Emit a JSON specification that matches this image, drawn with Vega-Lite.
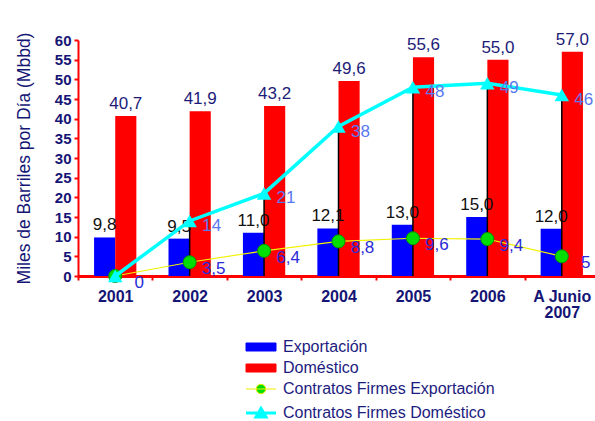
{
  "$schema": "https://vega.github.io/schema/vega-lite/v6.json",
  "width": 521,
  "height": 236,
  "autosize": {"type": "none"},
  "padding": {"left": 78, "top": 40, "right": 0, "bottom": 145},
  "background": "white",
  "config": {
    "locale": {"number": {"decimal": ",", "thousands": ".", "grouping": [3], "currency": ["", " €"]}},
    "font": "Liberation Sans",
    "view": {"stroke": null}
  },
  "data": {"values": [
    {"anio": "2001", "serie": "Exportación", "valor": 9.8},
    {"anio": "2002", "serie": "Exportación", "valor": 9.5},
    {"anio": "2003", "serie": "Exportación", "valor": 11.0},
    {"anio": "2004", "serie": "Exportación", "valor": 12.1},
    {"anio": "2005", "serie": "Exportación", "valor": 13.0},
    {"anio": "2006", "serie": "Exportación", "valor": 15.0},
    {"anio": "A Junio 2007", "serie": "Exportación", "valor": 12.0},
    {"anio": "2001", "serie": "Doméstico", "valor": 40.7},
    {"anio": "2002", "serie": "Doméstico", "valor": 41.9},
    {"anio": "2003", "serie": "Doméstico", "valor": 43.2},
    {"anio": "2004", "serie": "Doméstico", "valor": 49.6},
    {"anio": "2005", "serie": "Doméstico", "valor": 55.6},
    {"anio": "2006", "serie": "Doméstico", "valor": 55.0},
    {"anio": "A Junio 2007", "serie": "Doméstico", "valor": 57.0},
    {"anio": "2001", "serie": "Contratos Firmes Exportación", "valor": 0.0},
    {"anio": "2002", "serie": "Contratos Firmes Exportación", "valor": 3.5},
    {"anio": "2003", "serie": "Contratos Firmes Exportación", "valor": 6.4},
    {"anio": "2004", "serie": "Contratos Firmes Exportación", "valor": 8.8},
    {"anio": "2005", "serie": "Contratos Firmes Exportación", "valor": 9.6},
    {"anio": "2006", "serie": "Contratos Firmes Exportación", "valor": 9.4},
    {"anio": "A Junio 2007", "serie": "Contratos Firmes Exportación", "valor": 5},
    {"anio": "2001", "serie": "Contratos Firmes Doméstico", "valor": 0},
    {"anio": "2002", "serie": "Contratos Firmes Doméstico", "valor": 14},
    {"anio": "2003", "serie": "Contratos Firmes Doméstico", "valor": 21},
    {"anio": "2004", "serie": "Contratos Firmes Doméstico", "valor": 38},
    {"anio": "2005", "serie": "Contratos Firmes Doméstico", "valor": 48},
    {"anio": "2006", "serie": "Contratos Firmes Doméstico", "valor": 49},
    {"anio": "A Junio 2007", "serie": "Contratos Firmes Doméstico", "valor": 46}
  ]},
  "encoding": {
    "x": {
      "field": "anio", "type": "nominal", "sort": null,
      "scale": {"paddingInner": 0, "paddingOuter": 0},
      "axis": {
        "title": null, "labelAngle": 0, "orient": "bottom",
        "domainColor": "#ff0000", "domainWidth": 3,
        "tickColor": "#ff0000", "tickBand": "extent", "tickSize": 4, "tickWidth": 2,
        "labelFontWeight": "bold", "labelFontSize": 16, "labelColor": "#151575",
        "labelPadding": 8, "labelLineHeight": 16,
        "labelExpr": "datum.value == 'A Junio 2007' ? ['A Junio', '2007'] : datum.value"
      }
    },
    "y": {
      "field": "valor", "type": "quantitative",
      "scale": {"domain": [0, 60], "nice": false},
      "axis": {
        "title": "Miles de Barriles por Día (Mbbd)",
        "titleFontSize": 17.5, "titleFontWeight": "normal", "titleColor": "#151575", "titlePadding": 21,
        "values": [0, 5, 10, 15, 20, 25, 30, 35, 40, 45, 50, 55, 60],
        "grid": false,
        "domainColor": "#ff0000", "domainWidth": 2,
        "tickColor": "#ff0000", "tickSize": 4, "tickWidth": 2,
        "labelFontWeight": "bold", "labelFontSize": 15, "labelColor": "#151575", "labelPadding": 3
      }
    }
  },
  "layer": [
    {
      "transform": [{"filter": "datum.serie == 'Exportación' || datum.serie == 'Doméstico'"}],
      "mark": {"type": "bar"},
      "encoding": {
        "xOffset": {"field": "serie", "sort": ["Exportación", "Doméstico"], "scale": {"paddingInner": 0, "paddingOuter": 0.76}},
        "color": {
          "field": "serie", "type": "nominal",
          "scale": {
            "domain": ["Exportación", "Doméstico", "Contratos Firmes Exportación", "Contratos Firmes Doméstico"],
            "range": ["#0000ff", "#ff0000", "#00dd00", "#00ffff"]
          },
          "legend": {
            "orient": "none", "legendX": 175, "legendY": 299, "direction": "vertical",
            "title": null, "labelFontSize": 16, "labelColor": "#1c1c80", "labelFont": "Liberation Sans", "labelLimit": 400,
            "symbolSize": 100, "labelOffset": 14, "rowPadding": 5,
            "encode": {
              "symbols": {
                "update": {
                  "shape": {"signal": "datum.value === 'Exportación' || datum.value === 'Doméstico' ? 'M-3,-0.8H3V0.8H-3Z' : datum.value === 'Contratos Firmes Exportación' ? 'M-3,0H3M0.95,0A0.95,0.95,0,1,1,-0.95,0A0.95,0.95,0,1,1,0.95,0' : 'M-3,0H3M0,-0.9L1,0.8L-1,0.8Z'"},
                  "fill": {"signal": "datum.value === 'Exportación' ? '#0000ff' : datum.value === 'Doméstico' ? '#ff0000' : datum.value === 'Contratos Firmes Exportación' ? '#00dd00' : '#00ffff'"},
                  "stroke": {"signal": "datum.value === 'Exportación' ? '#0000ff' : datum.value === 'Doméstico' ? '#ff0000' : datum.value === 'Contratos Firmes Exportación' ? '#eeee00' : '#00ffff'"},
                  "strokeWidth": {"signal": "datum.value === 'Contratos Firmes Doméstico' ? 3 : 1"},
                  "opacity": {"value": 1}
                }
              }
            }
          }
        }
      }
    },
    {
      "transform": [{"filter": "datum.serie == 'Exportación' || datum.serie == 'Doméstico'"}],
      "mark": {"type": "text", "baseline": "bottom", "dy": -3, "fontSize": 17},
      "encoding": {
        "xOffset": {"field": "serie", "sort": ["Exportación", "Doméstico"], "scale": {"paddingInner": 0, "paddingOuter": 0.76}},
        "text": {"field": "valor", "type": "quantitative", "format": ".1f"},
        "color": {"condition": {"test": "datum.serie == 'Exportación'", "value": "#111111"}, "value": "#1c1c78"}
      }
    },
    {
      "transform": [{"filter": "datum.serie == 'Contratos Firmes Doméstico'"}],
      "mark": {"type": "rule", "color": "#000000", "strokeWidth": 1.5},
      "encoding": {"y2": {"datum": 0}}
    },
    {
      "transform": [{"filter": "datum.serie == 'Contratos Firmes Exportación'"}],
      "mark": {"type": "line", "color": "#f2f200", "strokeWidth": 1.2},
      "encoding": {}
    },
    {
      "transform": [{"filter": "datum.serie == 'Contratos Firmes Exportación'"}],
      "mark": {"type": "point", "shape": "circle", "filled": true, "size": 170, "fill": "#00dd00", "stroke": "#009900", "strokeWidth": 1, "opacity": 1},
      "encoding": {}
    },
    {
      "transform": [{"filter": "datum.serie == 'Contratos Firmes Doméstico'"}],
      "mark": {"type": "line", "color": "#00ffff", "strokeWidth": 3.5},
      "encoding": {}
    },
    {
      "transform": [{"filter": "datum.serie == 'Contratos Firmes Doméstico'"}],
      "mark": {"type": "point", "shape": "triangle-up", "filled": true, "size": 210, "fill": "#00ffff", "opacity": 1},
      "encoding": {}
    },
    {
      "transform": [{"filter": "datum.serie == 'Contratos Firmes Exportación'"}],
      "mark": {"type": "text", "dx": 24, "dy": 7, "fontSize": 17, "color": "#2a2ad6"},
      "encoding": {"text": {"field": "valor", "type": "quantitative", "format": ".1~f"}}
    },
    {
      "transform": [{"filter": "datum.serie == 'Contratos Firmes Doméstico' && datum.valor > 0"}],
      "mark": {"type": "text", "dx": 22, "dy": 5, "fontSize": 17, "color": "#5878f0"},
      "encoding": {"text": {"field": "valor", "type": "quantitative", "format": "d"}}
    }
  ]
}
